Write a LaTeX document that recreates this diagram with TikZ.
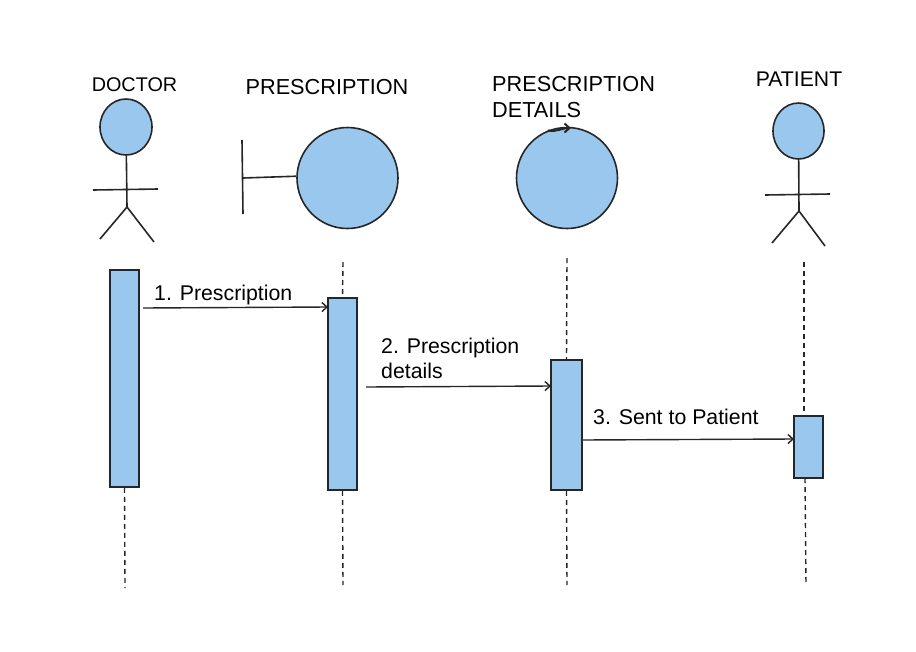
\documentclass[tikz,border=0pt]{standalone}
\usepackage{fontspec}
\setmainfont{Liberation Sans}
\usetikzlibrary{shapes.geometric,arrows.meta}
\definecolor{LightBlue}{HTML}{9AC7EE}
\colorlet{InkGrey}{black!85}
\tikzstyle{headNode}=[ellipse,draw=InkGrey,fill=LightBlue,line width=1.6pt,inner sep=0pt]
\tikzstyle{bigCircle}=[circle,draw=InkGrey,fill=LightBlue,line width=1.6pt,minimum size=101pt,inner sep=0pt]
\tikzstyle{activationBar}=[draw=InkGrey,fill=LightBlue,line width=1.5pt,inner sep=0pt]
\tikzstyle{invisNode}=[inner sep=0pt,text=black,font=\fontsize{21.3}{25}\selectfont,align=left]
\tikzstyle{titleNode}=[inner sep=0pt,text=black,font=\fontsize{21.7}{26}\selectfont,align=left]
\tikzstyle{stickLine}=[draw=InkGrey,line width=1.6pt]
\tikzstyle{lifeLine}=[draw=InkGrey,line width=1.4pt,dash pattern=on 5pt off 4pt]
\tikzstyle{messageArrow}=[draw=InkGrey,line width=1.4pt,-{Straight Barb[length=5pt,width=9pt]}]

\begin{document}
\begin{tikzpicture}[x=1pt,y=-1pt]
        \useasboundingbox (0,0) rectangle (916,651);

        % Column titles
        \node[titleNode,font=\fontsize{19.8}{25}\selectfont] (doctorTitle) at (134.5,85) {DOCTOR};
        \node[titleNode] (prescTitle) at (327,87.5) {PRESCRIPTION};
        \node[titleNode,anchor=west] (detailsTitle) at (492,97.5) {PRESCRIPTION\\DETAILS};
        \node[titleNode,font=\fontsize{21.2}{25}\selectfont] (patientTitle) at (799,79.5) {PATIENT};

        % Doctor figure
        \node[headNode,minimum width=52pt,minimum height=56pt] (doctorHead) at (126,127) {};
        \coordinate (doctorHip) at (127,207);
        \coordinate (doctorArmL) at (93,190);
        \coordinate (doctorArmR) at (158,189);
        \coordinate (doctorFootL) at (100,239);
        \coordinate (doctorFootR) at (154,242);
        \draw[stickLine] (doctorHead) -- (doctorHip);
        \draw[stickLine] (doctorArmL) -- (doctorArmR);
        \draw[stickLine] (doctorHip) -- (doctorFootL);
        \draw[stickLine] (doctorHip) -- (doctorFootR);

        % Boundary circle
        \node[bigCircle] (prescCircle) at (347.5,178) {};
        \coordinate (barTop) at (242,140);
        \coordinate (barBottom) at (243,214);
        \coordinate (barMid) at (243,178);
        \draw[stickLine] (barTop) -- (barBottom);
        \draw[stickLine] (barMid) -- (prescCircle.178);

        % Entity circle
        \node[bigCircle] (detailsCircle) at (567,178) {};
        \coordinate (tangentEnd) at (571,128);
        \draw[messageArrow,line width=2pt] (detailsCircle.112) to[out=-12,in=180] (tangentEnd);

        % Patient figure
        \node[headNode,minimum width=51pt,minimum height=56pt] (patientHead) at (798.5,131) {};
        \coordinate (patientHip) at (799,211);
        \coordinate (patientArmL) at (765,195);
        \coordinate (patientArmR) at (830,194);
        \coordinate (patientFootL) at (772,243);
        \coordinate (patientFootR) at (825,246);
        \draw[stickLine] (patientHead) -- (patientHip);
        \draw[stickLine] (patientArmL) -- (patientArmR);
        \draw[stickLine] (patientHip) -- (patientFootL);
        \draw[stickLine] (patientHip) -- (patientFootR);

        % Activation bars
        \node[activationBar,minimum width=29pt,minimum height=217pt] (doctorBar) at (124.5,378.5) {};
        \node[activationBar,minimum width=29pt,minimum height=192pt] (prescBar) at (342.5,394) {};
        \node[activationBar,minimum width=31pt,minimum height=130pt] (detailsBar) at (566.5,425) {};
        \node[activationBar,minimum width=29pt,minimum height=62pt] (patientBar) at (808.5,447) {};

        % Lifelines
        \coordinate (doctorEnd) at (125,588);
        \coordinate (prescStart) at (343,262);
        \coordinate (prescEnd) at (343,585);
        \coordinate (detailsStart) at (567,258);
        \coordinate (detailsEnd) at (567,585);
        \coordinate (patientStart) at (804,262);
        \coordinate (patientIn) at (804,416);
        \coordinate (patientOut) at (805,478);
        \coordinate (patientEnd) at (806,585);
        \draw[lifeLine] (doctorBar.south) -- (doctorEnd);
        \draw[lifeLine] (prescStart) -- (prescBar.north);
        \draw[lifeLine] (prescBar.south) -- (prescEnd);
        \draw[lifeLine] (detailsStart) -- (detailsBar.north);
        \draw[lifeLine] (detailsBar.south) -- (detailsEnd);
        \draw[lifeLine] (patientStart) -- (patientIn);
        \draw[lifeLine] (patientOut) -- (patientEnd);

        % Messages
        \coordinate (firstFrom) at (143,308);
        \coordinate (firstTo) at (328,307);
        \coordinate (secondFrom) at (366,387);
        \coordinate (secondTo) at (551,386);
        \coordinate (thirdFrom) at (582,440);
        \coordinate (thirdTo) at (794,439);
        \draw[messageArrow] (firstFrom) -- (firstTo);
        \draw[messageArrow] (secondFrom) -- (secondTo);
        \draw[messageArrow] (thirdFrom) -- (thirdTo);

        \node[invisNode,anchor=west] (firstLabel) at (154,294.5) {1. Prescription};
        \node[invisNode,anchor=west] (secondLabel) at (381,358) {2. Prescription\\details};
        \node[invisNode,anchor=west] (thirdLabel) at (593,417) {3. Sent to Patient};

\end{tikzpicture}
\end{document}
